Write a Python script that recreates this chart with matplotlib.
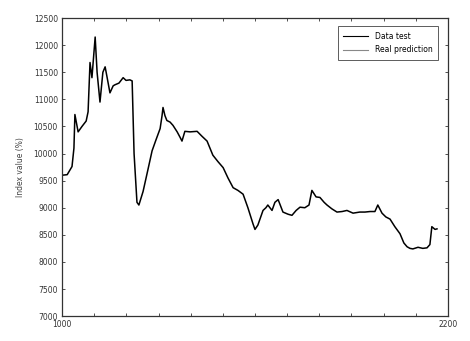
import numpy as np
import matplotlib
matplotlib.use("Agg")
import matplotlib.pyplot as plt
from matplotlib.lines import Line2D

# sample index and index level of the test series
days = [1000, 1016, 1031, 1037, 1040, 1050, 1062, 1075, 1081, 1087,
        1093, 1103, 1109, 1118, 1127, 1134, 1140, 1149, 1159, 1165,
        1177, 1190, 1199, 1211, 1218, 1224, 1233, 1239, 1252, 1267,
        1280, 1292, 1305, 1311, 1314, 1320, 1326, 1336, 1345, 1358,
        1367, 1373, 1382, 1398, 1420, 1435, 1451, 1460, 1469, 1485,
        1501, 1516, 1532, 1547, 1563, 1578, 1594, 1600, 1609, 1625,
        1634, 1640, 1653, 1662, 1672, 1687, 1703, 1715, 1728, 1740,
        1755, 1768, 1777, 1790, 1802, 1815, 1824, 1839, 1855, 1871,
        1886, 1905, 1926, 1942, 1958, 1973, 1982, 1995, 2007, 2020,
        2035, 2051, 2063, 2073, 2082, 2091, 2107, 2122, 2135, 2144,
        2150, 2160, 2166]
index_level = [9600, 9610, 9760, 10100, 10720, 10400, 10500, 10600, 10770, 11680,
               11400, 12150, 11500, 10950, 11500, 11600, 11410, 11120, 11250, 11270,
               11300, 11400, 11350, 11360, 11340, 10000, 9100, 9050, 9300, 9700,
               10050, 10250, 10460, 10700, 10850, 10700, 10610, 10580, 10520, 10400,
               10300, 10230, 10410, 10400, 10410, 10320, 10230, 10100, 9970, 9850,
               9740, 9550, 9370, 9320, 9250, 9000, 8700, 8600, 8680, 8950,
               9000, 9050, 8950, 9100, 9150, 8920, 8880, 8860, 8950, 9010,
               9000, 9050, 9320, 9200, 9190, 9100, 9050, 8980, 8920, 8930,
               8950, 8900, 8920, 8920, 8930, 8930, 9050, 8900, 8830, 8790,
               8650, 8520, 8350, 8280, 8250, 8240, 8270, 8250, 8260, 8320,
               8650, 8600, 8610]

y_ticks = list(range(7000, 12501, 500))
x_ticks = list(range(1000, 2201, 100))
x_ticklabels = ["1000"] + [""] * 11 + ["2200"]
legend_labels = ["Data test", "Real prediction"]

plt.rcParams["font.family"] = "DejaVu Sans"
fig = plt.figure(figsize=(4.7, 3.41), dpi=100)
ax = fig.add_axes([0.132, 0.073, 0.821, 0.874])

ax.plot(days, index_level, color="black", lw=1.1)

ax.set_xlim(1000, 2200)
ax.set_ylim(7000, 12500)
ax.set_yticks(y_ticks)
ax.set_xticks(x_ticks)
ax.set_xticklabels(x_ticklabels)
ax.tick_params(direction="in", length=2.5, width=0.6, labelsize=5.5,
               colors="#333333", top=True, right=True, pad=3)
for s in ax.spines.values():
    s.set_linewidth(0.9)
    s.set_color("#333333")
ax.set_ylabel("Index value (%)", fontsize=5.5, color="#444444", labelpad=6)

handles = [Line2D([], [], color="black", lw=0.8),
           Line2D([], [], color="#888888", lw=0.8)]
leg = ax.legend(handles, legend_labels, loc="upper right", fontsize=5.5,
                frameon=True, fancybox=False, edgecolor="#333333",
                borderpad=0.7, labelspacing=0.6, handlelength=3.2,
                handletextpad=1.0, bbox_to_anchor=(0.985, 0.985))
leg.get_frame().set_linewidth(0.7)

fig.savefig("out.png", dpi=100)
